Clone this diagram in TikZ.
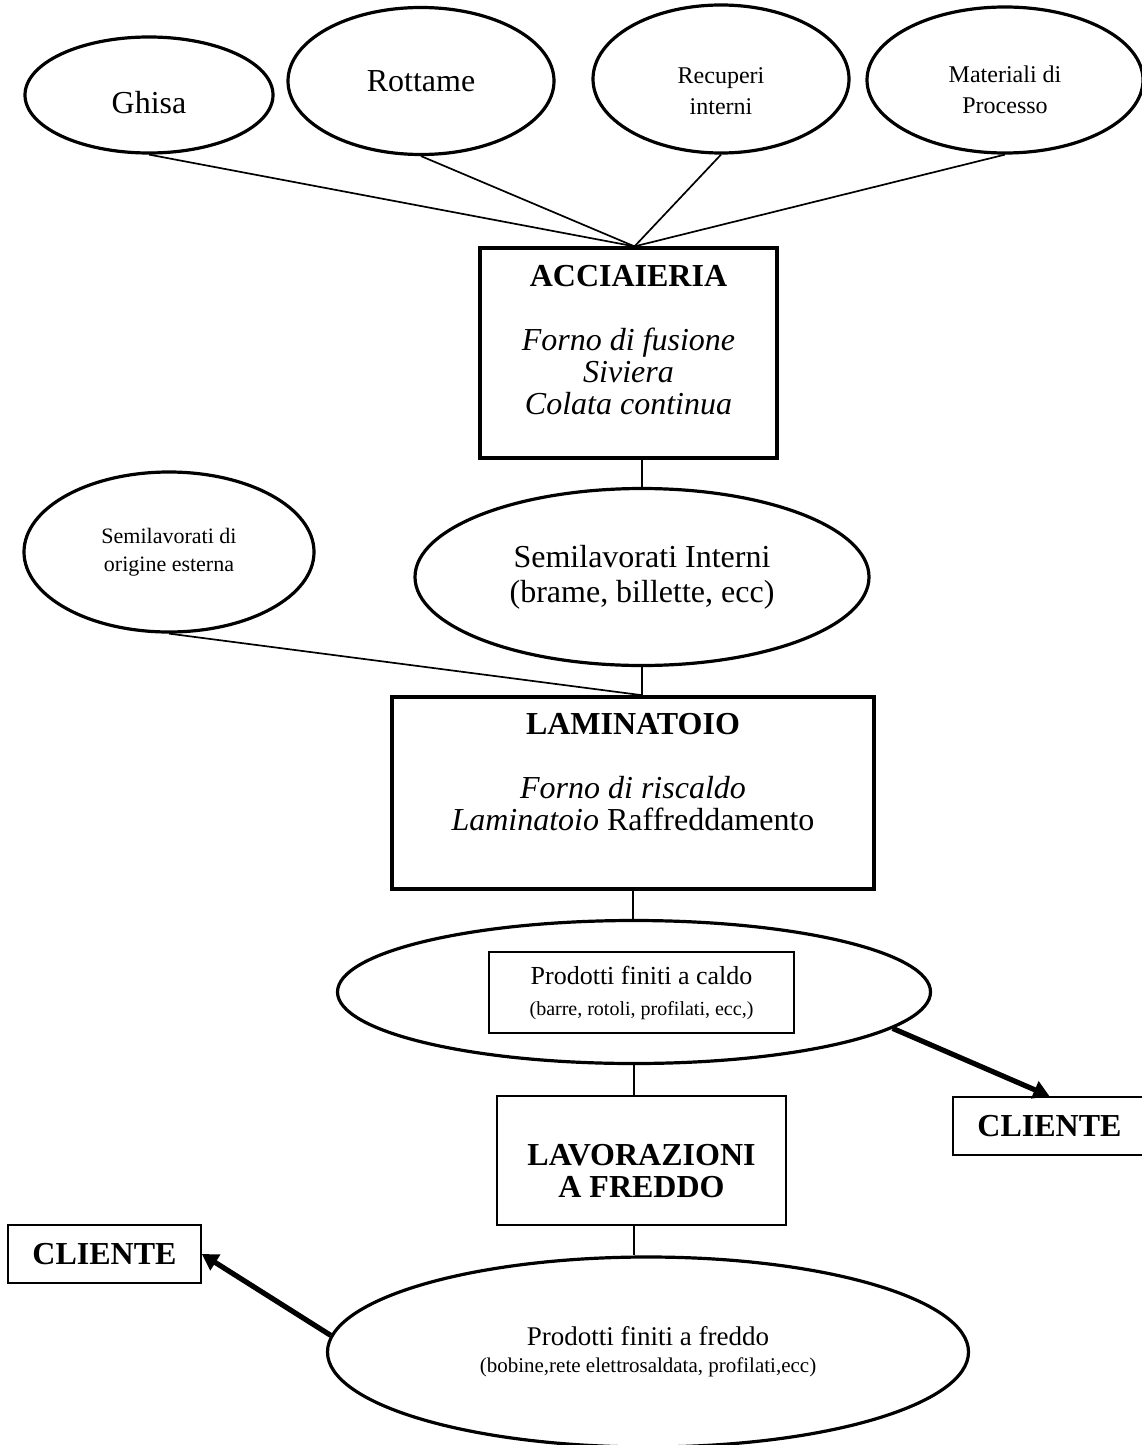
\documentclass[tikz,border=0pt]{standalone}
\usepackage{fontspec}
\setmainfont{Liberation Serif}
\usetikzlibrary{arrows.meta,shapes.geometric}

\begin{document}
\begin{tikzpicture}[
  x=0.5pt,y=-0.5pt,
  source/.style={ellipse,draw,line width=1.6pt,inner sep=0pt,align=center},
  stage/.style={rectangle,draw,inner sep=0pt,align=center,
    font=\fontsize{16}{16}\selectfont},
  client/.style={rectangle,draw,line width=0.85pt,minimum width=96.5pt,
    minimum height=29pt,inner sep=0pt,font=\fontsize{16}{16}\selectfont\bfseries},
  link/.style={line width=0.85pt},
  arrow/.style={-{Triangle[length=8pt,width=9pt]},line width=2.6pt}
]
\useasboundingbox (0,0) rectangle (1141,1445);
% materie prime
\node[source,minimum width=124pt,minimum height=58pt,
  font=\fontsize{16}{16}\selectfont] (ghisa) at (149,95) {\rule{0pt}{19pt}Ghisa};
\node[source,minimum width=133pt,minimum height=73.5pt,
  font=\fontsize{16}{16}\selectfont] (rottame) at (421,81) {Rottame};
\node[source,minimum width=128pt,minimum height=74pt,
  font=\fontsize{12}{15.5}\selectfont] (recuperi) at (721,79)
  {\rule{0pt}{20.5pt}Recuperi\\interni};
\node[source,minimum width=138pt,minimum height=73pt,
  font=\fontsize{12}{15.5}\selectfont] (materiali) at (1005,80)
  {\rule{0pt}{18pt}Materiali di\\Processo};
% acciaieria
\node[stage,line width=1.6pt,minimum width=148.5pt,minimum height=105pt]
  (acciaieria) at (628.5,353)
  {\textbf{ACCIAIERIA}\\[16pt]\textit{Forno di fusione}\\\textit{Siviera}\\
   \textit{Colata continua}\rule[-13.5pt]{0pt}{13.5pt}};
\draw[link] (ghisa.south) -- ([xshift=3pt]acciaieria.north);
\draw[link] (rottame.south) -- ([xshift=3pt]acciaieria.north);
\draw[link] (recuperi.south) -- ([xshift=3pt]acciaieria.north);
\draw[link] (materiali.south) -- ([xshift=3pt]acciaieria.north);
% semilavorati
\node[source,minimum width=227pt,minimum height=88.5pt,
  font=\fontsize{16}{17.5}\selectfont] (interni) at (642,577)
  {Semilavorati Interni\\(brame, billette, ecc)};
\node[source,minimum width=145pt,minimum height=80pt,
  font=\fontsize{11}{14}\selectfont] (esterni) at (169,552)
  {Semilavorati di\\origine esterna};
\draw[link] (interni.north |- acciaieria.south) -- (interni.north);
% laminatoio
\node[stage,line width=1.8pt,minimum width=241pt,minimum height=96pt]
  (laminatoio) at (633,793)
  {\textbf{LAMINATOIO}\\[16pt]\textit{Forno di riscaldo}\\
   \textit{Laminatoio} Raffreddamento\rule[-21.5pt]{0pt}{21.5pt}};
\draw[link] (interni.south) -- (interni.south |- laminatoio.north);
\draw[link] (esterni.south) -- (interni.south |- laminatoio.north);
% prodotti a caldo
\node[source,minimum width=296.5pt,minimum height=71.5pt] (caldo) at (634,992) {};
\node[rectangle,draw,line width=0.75pt,minimum width=152.5pt,minimum height=40.5pt,
  inner sep=0pt,align=center,font=\fontsize{13}{15.5}\selectfont]
  (caldobox) at (641.5,992.5)
  {Prodotti finiti a caldo\\{\fontsize{10}{12}\selectfont(barre, rotoli, profilati, ecc,)}};
\draw[link] (laminatoio.south) -- (laminatoio.south |- caldo.north);
\node[client] (clienteR) at (1049.5,1126) {CLIENTE};
\draw[arrow] (caldo.-8) -- (clienteR.north);
% lavorazioni a freddo
\node[stage,line width=1.1pt,minimum width=144.5pt,minimum height=64.5pt]
  (lavorazioni) at (641.5,1160.5)
  {\rule{0pt}{21.5pt}\textbf{LAVORAZIONI}\\\textbf{A FREDDO}};
\draw[link] (caldo.south) -- (caldo.south |- lavorazioni.north);
\node[source,minimum width=320.5pt,minimum height=95pt,
  font=\fontsize{13.5}{13.5}\selectfont] (freddo) at (648,1352)
  {Prodotti finiti a freddo\\
   {\fontsize{10.5}{12}\selectfont(bobine,rete elettrosaldata, profilati,ecc)}};
\draw[link] (caldo.south |- lavorazioni.south) -- (caldo.south |- freddo.north);
\node[client] (clienteL) at (104.5,1254) {CLIENTE};
\draw[arrow] (freddo.177) -- (clienteL.east);
\end{tikzpicture}
\end{document}
